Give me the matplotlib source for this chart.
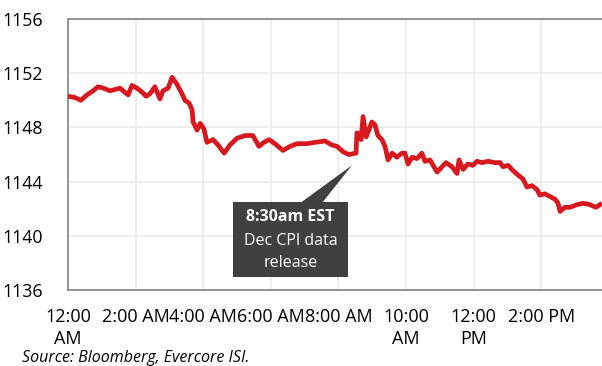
import matplotlib.pyplot as plt
from matplotlib.patches import Polygon, Rectangle

plt.rcParams['font.family'] = ['Open Sans', 'DejaVu Sans']

# hours after midnight, price
hours = [0.00, 0.21, 0.38, 0.56, 0.74, 0.89, 1.04, 1.24, 1.39, 1.54, 1.63, 1.78,
         1.89, 2.04, 2.19, 2.31, 2.43, 2.57, 2.72, 2.81, 2.96, 3.08, 3.22, 3.37,
         3.46, 3.58, 3.67, 3.70, 3.82, 3.91, 4.02, 4.11, 4.29, 4.44, 4.62, 4.79,
         5.00, 5.24, 5.47, 5.65, 5.80, 5.95, 6.12, 6.36, 6.57, 6.78, 7.07, 7.31,
         7.60, 7.81, 7.96, 8.14, 8.31, 8.52, 8.55, 8.61, 8.67, 8.73, 8.82, 8.90,
         8.99, 9.08, 9.17, 9.29, 9.38, 9.47, 9.59, 9.73, 9.88, 9.97, 10.06, 10.18,
         10.33, 10.47, 10.56, 10.71, 10.92, 11.07, 11.18, 11.36, 11.51, 11.57, 11.69, 11.83,
         11.98, 12.10, 12.25, 12.43, 12.63, 12.78, 12.87, 13.02, 13.17, 13.31, 13.46, 13.58,
         13.73, 13.88, 13.96, 14.11, 14.26, 14.41, 14.50, 14.56, 14.70, 14.85, 15.06, 15.24,
         15.44, 15.62, 15.74]
price = [1150.3, 1150.2, 1150.0, 1150.4, 1150.7, 1151.0, 1150.9, 1150.7, 1150.8, 1150.9, 1150.7, 1150.4,
         1151.1, 1150.9, 1150.6, 1150.3, 1150.5, 1151.0, 1150.1, 1150.7, 1150.9, 1151.7, 1151.2, 1150.5,
         1150.0, 1149.8, 1149.3, 1148.4, 1147.8, 1148.3, 1147.9, 1146.9, 1147.1, 1146.7, 1146.1, 1146.7,
         1147.2, 1147.4, 1147.4, 1146.6, 1146.9, 1147.1, 1146.8, 1146.3, 1146.6, 1146.8, 1146.8, 1146.9,
         1147.0, 1146.7, 1146.6, 1146.2, 1146.0, 1146.1, 1147.6, 1147.5, 1147.1, 1148.8, 1147.3, 1147.8,
         1148.4, 1148.2, 1147.4, 1147.1, 1146.6, 1145.6, 1146.1, 1145.8, 1146.1, 1146.1, 1145.3, 1145.8,
         1145.7, 1146.1, 1145.5, 1145.6, 1144.7, 1145.1, 1145.4, 1145.1, 1144.6, 1145.6, 1144.9, 1145.3,
         1145.2, 1145.5, 1145.4, 1145.5, 1145.4, 1145.4, 1145.1, 1145.2, 1144.8, 1144.5, 1144.2, 1143.6,
         1143.7, 1143.4, 1143.0, 1143.1, 1142.9, 1142.7, 1142.4, 1141.8, 1142.1, 1142.1, 1142.3, 1142.4,
         1142.3, 1142.1, 1142.3]

tick_hours = [0, 2, 4, 6, 8, 10, 12, 14]
tick_labels = ['12:00\nAM', '2:00 AM', '4:00 AM', '6:00 AM', '8:00 AM',
               '10:00\nAM', '12:00\nPM', '2:00 PM']
y_ticks = [1136, 1140, 1144, 1148, 1152, 1156]

fig = plt.figure(figsize=(6.02, 3.66), dpi=100)
ax = fig.add_axes([0.113, 0.2077, 0.887, 0.7403])

ax.plot(hours, price, color='#D7191F', lw=3.4, solid_joinstyle='round', zorder=3)

ax.set_xlim(0, 15.8)
ax.set_ylim(1136, 1156)
ax.set_xticks(tick_hours)
ax.set_xticklabels(tick_labels, fontsize=13, linespacing=1.25)
ax.set_yticks(y_ticks)
ax.tick_params(axis='y', labelsize=12.8, length=0, pad=18)
ax.tick_params(axis='x', length=0, pad=13)
ax.grid(True, color='#EDEDED', lw=1.3)
ax.set_axisbelow(True)

for s in ['left', 'bottom', 'top']:
    ax.spines[s].set_color('#8C8C8C')
    ax.spines[s].set_linewidth(1.3)
ax.spines['right'].set_visible(False)

# callout
box_col = '#404040'
ax.add_patch(Rectangle((4.88, 1136.95), 3.40, 5.53, facecolor=box_col,
                       edgecolor='none', zorder=4))
ax.add_patch(Polygon([(6.86, 1142.4), (7.51, 1142.4), (8.40, 1145.2)],
                     closed=True, facecolor=box_col, edgecolor='none', zorder=4))
ax.text(6.58, 1141.4, '8:30am EST', color='white', fontsize=11.5,
        fontweight='bold', ha='center', va='center', zorder=5)
ax.text(6.58, 1139.65, 'Dec CPI data', color='white', fontsize=11.5,
        ha='center', va='center', zorder=5)
ax.text(6.58, 1138.0, 'release', color='white', fontsize=11.5,
        ha='center', va='center', zorder=5)

fig.text(0.037, 0.001, 'Source: Bloomberg, Evercore ISI.', fontsize=11.5,
         style='italic', ha='left', va='bottom')

fig.savefig('out.png', dpi=100)
